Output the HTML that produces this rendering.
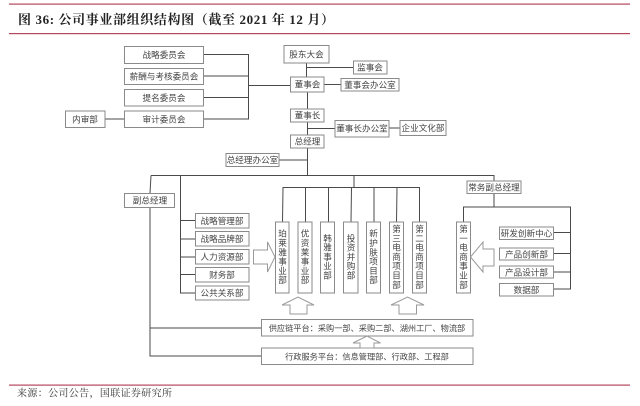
<!DOCTYPE html>
<html><head><meta charset="utf-8"><style>
html,body{margin:0;padding:0;background:#fff}
svg{display:block;filter:blur(0.35px)}
.b{fill:#fff;stroke:#8a8a8a;stroke-width:1}
.l{fill:none;stroke:#4a4a4a;stroke-width:1}
.a{fill:#fff;stroke:#9a9a9a;stroke-width:1}
text{font-family:"Liberation Sans","Noto Sans CJK SC",sans-serif;font-size:8.6px;fill:#444;text-anchor:middle}
.v{writing-mode:vertical-rl;letter-spacing:.7px;font-size:8.6px}
</style></head><body>
<svg width="640" height="406" viewBox="0 0 640 406" xmlns="http://www.w3.org/2000/svg">
<rect x="9" y="3.500" width="621" height="1.200" fill="#b5475c"/>
<rect x="9" y="33" width="621" height="1.200" fill="#b5475c"/>
<rect x="9" y="384.500" width="621" height="1.200" fill="#b5475c"/>
<text x="18" y="24" textLength="316" lengthAdjust="spacing" style='font-family:"Liberation Serif","Noto Serif CJK SC",serif;font-weight:700;font-size:13px;fill:#222;text-anchor:start'>图 36: 公司事业部组织结构图（截至 2021 年 12 月）</text>
<text x="17" y="396.500" textLength="155" lengthAdjust="spacing" style='font-family:"Liberation Serif","Noto Serif CJK SC",serif;font-size:10px;fill:#333;text-anchor:start'>来源：公司公告，国联证券研究所</text>

<path class="l" d="M204 54.500H248.500V119H204M204 76H248.500M204 97.500H248.500M248.500 85.500H290M105 119H124"/>
<path class="l" d="M306.500 63V77M307.500 92V109M307.500 122V135M307.500 148V175.500M307 67.500H353M324 84.500H341M307.500 128.500H335M389 128H400M279 160H307.500"/>
<path class="l" d="M151 175.500H494V181M494 193V207M463.500 222V207H570.500V289H553M553 232.500H570.500M553 253.500H570.500M553 272H570.500"/>
<path class="l" d="M354 175.500V187.500M282.500 222L283 187.500H419.500V222M305.500 187.500V222M328.500 187.500V222M351.500 187.500L351 222M374 187.500V222M397 187.500L396.500 222"/>
<path class="l" d="M151 175.500L150 193M150 207V356H261M150 328H261M180.500 175.500V293M180 220.500H195M180 239H195M180 257H195M180 274.500H195M180 293H195"/>

<g>
<rect class="b" x="124.500" y="46.500" width="79" height="17"/><text x="164" y="58">战略委员会</text>
<rect class="b" x="124.500" y="68.500" width="79" height="16"/><text x="164" y="79.500">薪酬与考核委员会</text>
<rect class="b" x="124.500" y="89.500" width="79" height="16.500"/><text x="164" y="101">提名委员会</text>
<rect class="b" x="124.500" y="111" width="79" height="16.500"/><text x="164" y="122.500">审计委员会</text>
<rect class="b" x="65.500" y="111" width="39.500" height="16.500"/><text x="85" y="122.500">内审部</text>
<rect class="b" x="284" y="45.500" width="45" height="17.500"/><text x="306.500" y="57.500">股东大会</text>
<rect class="b" x="290.500" y="77" width="33.500" height="15"/><text x="307.500" y="87.500">董事会</text>
<rect class="b" x="290.500" y="109" width="33.500" height="13"/><text x="307.500" y="118.500">董事长</text>
<rect class="b" x="290.500" y="135" width="33.500" height="13"/><text x="307.500" y="144.500">总经理</text>
<rect class="b" x="226" y="153.500" width="53" height="13"/><text x="252.500" y="163">总经理办公室</text>
<rect class="b" x="353.500" y="61" width="33.500" height="13"/><text x="370" y="70.500">监事会</text>
<rect class="b" x="341" y="78.500" width="58" height="12.500"/><text x="370" y="88">董事会办公室</text>
<rect class="b" x="335" y="120.500" width="54" height="16.500"/><text x="362" y="131.500">董事长办公室</text>
<rect class="b" x="400" y="120.500" width="46" height="15"/><text x="423" y="131">企业文化部</text>
<rect class="b" x="467" y="181" width="54" height="12.500"/><text x="494" y="190.500">常务副总经理</text>
<rect class="b" x="124.500" y="193.500" width="50" height="14"/><text x="150" y="203.500">副总经理</text>
<rect class="b" x="195.500" y="213.500" width="53.500" height="14.500"/><text x="222" y="223.800">战略管理部</text>
<rect class="b" x="195.500" y="231.500" width="53.500" height="14.500"/><text x="222" y="241.800">战略品牌部</text>
<rect class="b" x="195.500" y="249.500" width="53.500" height="14.500"/><text x="222" y="259.800">人力资源部</text>
<rect class="b" x="195.500" y="267.500" width="53.500" height="14.500"/><text x="222" y="277.800">财务部</text>
<rect class="b" x="195.500" y="286" width="53.500" height="14"/><text x="222" y="296.200">公共关系部</text>
<rect class="b" x="499.500" y="227" width="54" height="12.500"/><text x="526.500" y="236.500">研发创新中心</text>
<rect class="b" x="499.500" y="248" width="54" height="12"/><text x="526.500" y="257.500">产品创新部</text>
<rect class="b" x="499.500" y="266" width="54" height="12"/><text x="526.500" y="275.500">产品设计部</text>
<rect class="b" x="499.500" y="283.500" width="54" height="12.500"/><text x="526.500" y="293">数据部</text>
<rect class="b" x="261.500" y="319.500" width="211.500" height="16.500"/><text x="367" y="331" style="font-size:8.200px">供应链平台：采购一部、采购二部、湖州工厂、物流部</text>
<rect class="b" x="261.500" y="348" width="211.500" height="16.500"/><text x="367" y="359.500" style="font-size:8.200px">行政服务平台：信息管理部、行政部、工程部</text>
</g>

<g>
<rect class="b" x="275.500" y="222" width="13.500" height="71"/><text class="v" x="282.500" y="257">珀莱雅事业部</text>
<rect class="b" x="298" y="222" width="14" height="71"/><text class="v" x="305" y="257">优资莱事业部</text>
<rect class="b" x="320.500" y="222" width="14" height="71"/><text class="v" x="327.500" y="257">韩雅事业部</text>
<rect class="b" x="343.500" y="222" width="14.500" height="71"/><text class="v" x="351" y="257">投资并购部</text>
<rect class="b" x="366.500" y="222" width="14" height="71"/><text class="v" x="373.500" y="257">新护肤项目部</text>
<rect class="b" x="389.500" y="222" width="14" height="71"/><text class="v" x="396.500" y="257">第三电商项目部</text>
<rect class="b" x="412.500" y="222" width="14" height="71"/><text class="v" x="419.500" y="257">第二电商项目部</text>
<rect class="b" x="456.500" y="222" width="14" height="71"/><text class="v" x="463.500" y="257">第一电商事业部</text>
</g>

<path class="a" d="M253.500 250H267.500V242L275 257L267.500 272V264H253.500Z"/>
<path class="a" d="M494 249H483V242L470.500 257L483 272V266H494Z"/>
<path class="a" d="M290 314V305H282L298 297L314 305H307V314Z"/>
<path class="a" d="M399 314V305H391L407.500 297L424 305H416.500V314Z"/>
<path class="a" d="M360 348V343H353L367 336L380.500 343H374V348Z"/>
</svg>
</body></html>
